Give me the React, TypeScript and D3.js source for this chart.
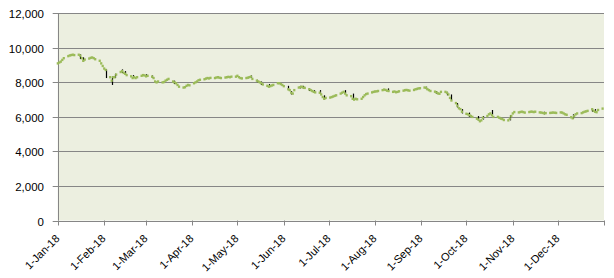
import React from 'react';
import * as d3 from 'd3';

// Y axis ticks
const yTicks = [0, 2000, 4000, 6000, 8000, 10000, 12000];
// Month ticks (labels)
const monthTicks = [
  '2018-01-01', '2018-02-01', '2018-03-01', '2018-04-01', '2018-05-01', '2018-06-01',
  '2018-07-01', '2018-08-01', '2018-09-01', '2018-10-01', '2018-11-01', '2018-12-01',
];
const axisEnd = '2019-01-01';
const firstMonday = '2018-01-01';

// Daily closing values, one row per week (Mon..Fri)
const weeksQ1 = [
  [9100, 9150, 9200, 9300, 9400],
  [9520, 9560, 9580, 9600, 9580],
  [9600, 9550, 9400, 9250, 9320],
  [9380, 9420, 9440, 9400, 9340],
  [9250, 9100, 8950, 8800, 8720],
  [8300, 8100, 8300, 8300, 8450],
  [8600, 8650, 8550, 8500, 8420],
  [8350, 8250, 8300, 8250, 8300],
  [8380, 8420, 8400, 8350, 8380],
  [8330, 8250, 8050, 8000, 8050],
  [8000, 8020, 8100, 8150, 8200],
  [8050, 8000, 7950, 7850, 7750],
  [7700, 7720, 7800, 7850, 7830],
];
const weeksQ2 = [
  [7950, 8000, 8050, 8120, 8150],
  [8180, 8220, 8250, 8230, 8260],
  [8250, 8280, 8300, 8270, 8250],
  [8280, 8300, 8320, 8300, 8330],
  [8330, 8380, 8300, 8250, 8230],
  [8250, 8270, 8300, 8330, 8200],
  [8100, 8050, 8000, 7950, 7880],
  [7800, 7750, 7780, 7820, 7850],
  [7950, 7950, 7900, 7850, 7780],
  [7600, 7550, 7400, 7350, 7550],
  [7700, 7720, 7750, 7700, 7680],
  [7600, 7550, 7500, 7450, 7420],
  [7400, 7300, 7150, 7050, 7100],
];
const weeksQ3 = [
  [7120, 7150, 7180, 7220, 7250],
  [7350, 7400, 7450, 7350, 7250],
  [7200, 7050, 7000, 7050, 7020],
  [7050, 7150, 7250, 7320, 7350],
  [7420, 7450, 7470, 7480, 7500],
  [7550, 7580, 7560, 7520, 7500],
  [7450, 7470, 7430, 7450, 7480],
  [7520, 7550, 7560, 7540, 7520],
  [7560, 7600, 7620, 7650, 7660],
  [7700, 7680, 7600, 7550, 7500],
  [7460, 7420, 7360, 7340, 7450],
  [7450, 7400, 7300, 7100, 6950],
  [6800, 6650, 6500, 6450, 6300],
];
const weeksQ4 = [
  [6180, 6150, 6100, 6050, 6000],
  [5900, 5850, 5750, 5800, 5950],
  [6050, 6150, 6200, 6100, 6000],
  [6000, 5950, 5900, 5880, 5820],
  [5800, 5900, 6050, 6200, 6280],
  [6260, 6280, 6300, 6280, 6250],
  [6280, 6300, 6300, 6280, 6300],
  [6260, 6250, 6230, 6210, 6220],
  [6230, 6240, 6250, 6240, 6230],
  [6260, 6250, 6200, 6150, 6120],
  [5980, 5920, 6050, 6150, 6200],
  [6220, 6260, 6300, 6320, 6350],
  [6440, 6350, 6300, 6270, 6400],
  [6480],
];

// High-low lines visible in black: [date, low, high]
const wicks: [string, number, number][] = [
  ['2018-01-16', 9350, 9620],
  ['2018-01-18', 9200, 9450],
  ['2018-02-02', 8250, 8750],
  ['2018-02-06', 7850, 8350],
  ['2018-02-08', 8250, 8500],
  ['2018-02-13', 8550, 8750],
  ['2018-02-15', 8450, 8650],
  ['2018-02-20', 8250, 8420],
  ['2018-03-01', 8350, 8470],
  ['2018-03-05', 8250, 8400],
  ['2018-03-20', 7900, 8100],
  ['2018-05-10', 8250, 8400],
  ['2018-05-14', 8000, 8150],
  ['2018-05-17', 7850, 8050],
  ['2018-05-22', 7750, 7900],
  ['2018-06-04', 7550, 7800],
  ['2018-06-06', 7300, 7500],
  ['2018-06-12', 7650, 7800],
  ['2018-06-14', 7650, 7800],
  ['2018-06-18', 7500, 7650],
  ['2018-06-21', 7400, 7550],
  ['2018-06-25', 7350, 7550],
  ['2018-06-28', 7000, 7250],
  ['2018-07-12', 7350, 7550],
  ['2018-07-17', 7000, 7350],
  ['2018-08-10', 7500, 7650],
  ['2018-09-04', 7600, 7750],
  ['2018-09-11', 7350, 7500],
  ['2018-09-18', 7250, 7450],
  ['2018-09-21', 6950, 7300],
  ['2018-09-25', 6550, 6800],
  ['2018-09-28', 6200, 6450],
  ['2018-10-03', 6000, 6250],
  ['2018-10-09', 5800, 6050],
  ['2018-10-12', 5850, 6050],
  ['2018-10-18', 6100, 6400],
  ['2018-10-30', 5800, 6100],
  ['2018-11-22', 6150, 6300],
  ['2018-12-11', 5900, 6150],
  ['2018-12-24', 6300, 6480],
  ['2018-12-26', 6250, 6450],
];

const W = 614;
const H = 278;
const left = 57.7;
const right = 604;
const top = 13.3;
const bottom = 220.5;

const parse = d3.timeParse('%Y-%m-%d');
const fmt = d3.timeFormat('%-d-%b-%y');

export default function App() {
  const x = d3.scaleTime().domain([parse(firstMonday)!, parse(axisEnd)!]).range([left, right]);
  const y = d3.scaleLinear().domain([0, 12000]).range([bottom, top]);
  const start = parse(firstMonday)!;
  const allWeeks = [...weeksQ1, ...weeksQ2, ...weeksQ3, ...weeksQ4];
  const points: { d: Date; v: number }[] = [];
  allWeeks.forEach((wk, w) => {
    wk.forEach((v, i) => {
      points.push({ d: d3.timeDay.offset(start, w * 7 + i), v });
    });
  });
  const axisColor = '#868686';
  const font = "'Liberation Sans', Arial, sans-serif";
  const tickDates = [...monthTicks, axisEnd].map((s) => parse(s)!);

  return (
    <svg width={W} height={H} style={{ position: 'absolute', left: 0, top: 0, background: '#fff' }}>
      <rect x={0} y={0} width={W} height={H} fill="#fff" />
      <rect x={left} y={top} width={right - left} height={bottom - top} fill="#ECEFE0" />
      {yTicks.map((t) => (
        <g key={t}>
          <line x1={left - 5} x2={right} y1={Math.round(y(t)) + 0.5} y2={Math.round(y(t)) + 0.5} stroke={axisColor} strokeWidth={1} />
          <text x={44} y={Math.round(y(t)) + 0.5} dy="0.35em" textAnchor="end" fontFamily={font} fontSize={11.5} fill="#000">
            {d3.format(',')(t)}
          </text>
        </g>
      ))}
      <line x1={Math.round(left) + 0.5} x2={Math.round(left) + 0.5} y1={top} y2={bottom} stroke={axisColor} />
      {tickDates.map((d, i) => {
        const tx = Math.round(x(d)) + 0.5;
        return (
          <g key={i}>
            <line x1={tx} x2={tx} y1={bottom} y2={bottom + 5} stroke={axisColor} />
            {i < monthTicks.length && (
              <text
                transform={`translate(${tx - 1},${bottom + 16}) rotate(-45)`}
                textAnchor="end"
                dy="0.35em"
                fontFamily={font}
                fontSize={11}
                fill="#000"
              >
                {fmt(d)}
              </text>
            )}
          </g>
        );
      })}
      {wicks.map(([ds, lo, hi], i) => {
        const wx = Math.round(x(parse(ds)!)) + 0.5;
        return <line key={i} x1={wx} x2={wx} y1={y(lo)} y2={y(hi)} stroke="#000" strokeWidth={1.2} />;
      })}
      {points.map((p, i) => (
        <rect key={i} x={x(p.d) - 1} y={y(p.v) - 1.2} width={2.2} height={2.4} fill="#9BBB59" />
      ))}
    </svg>
  );
}
